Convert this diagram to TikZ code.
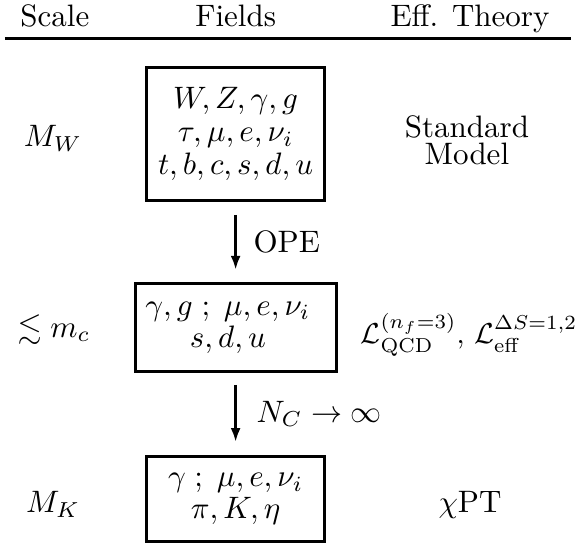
\documentclass[tikz,border=0pt]{standalone}
\usepackage{graphicx}
\usepackage{amsmath,amssymb}
\usetikzlibrary{arrows.meta}
\tikzset{
  campo/.style={draw, line width=1pt, align=center, minimum width=57.4pt},
  freccia/.style={->, line width=0.9pt},
}
\begin{document}
\begin{tikzpicture}[>={Latex[length=4.5pt,width=3.2pt]}, x=1pt, y=-1pt]
    \useasboundingbox (0,0) rectangle (187.4,176.1);
    % Intestazione
    \node[anchor=base] (hscala) at (17.7,8.7) {Scale};
    \node[anchor=base] (hcampi) at (76.0,8.7) {Fields};
    \node[anchor=base] (hteoria) at (151.6,8.7) {Eff. Theory};
    \draw[line width=1.07pt] (1.6,12.4) -- (184.2,12.4);

    % Riquadri dei campi
    \node[campo, minimum height=42.8pt] (mw) at (76.0,43.2)
        {$W,Z,\gamma,g$\\[-1.2pt] $\tau,\mu,e,\nu_i$\\[-1.2pt] $t,b,c,s,d,u$};
    \node[campo, minimum height=28.3pt] (mc) at (76.0,105.6)
        {$\gamma,g\;;\;\mu,e,\nu_i$\hspace*{5pt}\\[-1.7pt] $s,d,u$\hspace*{5pt}};
    \node[campo, minimum height=27.4pt] (mk) at (76.0,161.0)
        {$\gamma\;;\;\mu,e,\nu_i$\\[-1.7pt] $\pi,K,\eta$};

    % Frecce
    \draw[freccia, shorten <=4.2pt, shorten >=3.9pt] (mw) -- (mc)
        node[midway, right=2pt] {OPE};
    \draw[freccia, shorten <=3.9pt, shorten >=4.2pt] (mc) -- (mk)
        node[midway, right=3pt] {$N_C\to\infty$};

    % Scale
    \node[anchor=base] (sw) at (17.1,47.4) {$M_W$};
    \node[anchor=base] (sc) at (17.4,108.7) {$\lesssim m_c$};
    \node[anchor=base] (sk) at (17.1,165.4) {$M_K$};

    % Teorie efficaci
    \node[align=center] (tsm) at (150.6,45.2) {Standard\\[-3.3pt] Model};
    \node[anchor=base] (tqcd) at (151.3,110.9)
        {\scalebox{0.93}{$\mathcal{L}_{\rm QCD}^{(n_f=3)}$, $\mathcal{L}_{\rm eff}^{\Delta S=1,2}$}};
    \node[anchor=base] (tchi) at (151.6,165.4) {$\chi$PT};

\end{tikzpicture}
\end{document}
